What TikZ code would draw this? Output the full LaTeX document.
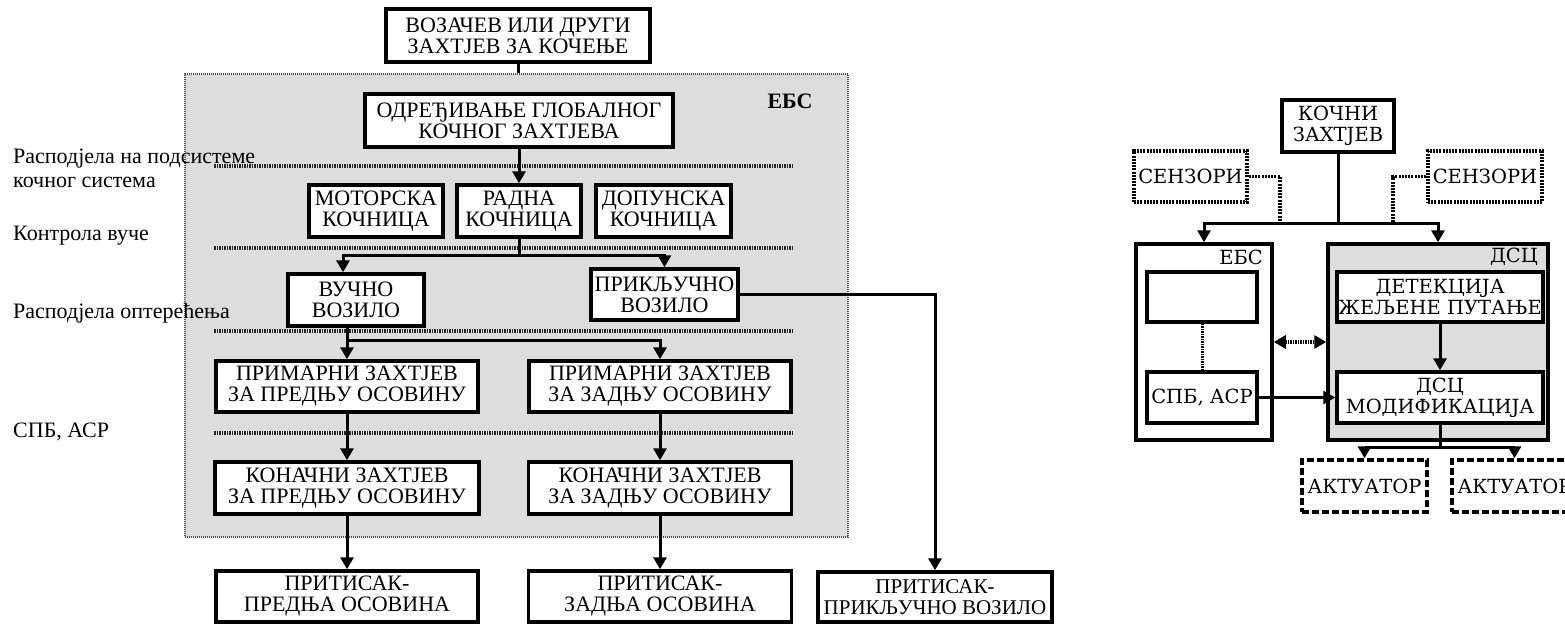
\documentclass[tikz,border=0pt]{standalone}
\usepackage{fontspec}
\setmainfont{Liberation Serif}
\newfontfamily\rfontfam{DejaVu Serif}
\usetikzlibrary{arrows.meta,calc}
\newcommand\leftfnt{\fontsize{22}{21}\selectfont}
\newcommand\leftsmallfnt{\fontsize{21}{21}\selectfont}
\newcommand\labfnt{\fontsize{22}{24}\selectfont}
\newcommand\rightfnt{\rfontfam\fontsize{19.5}{21}\selectfont}
\definecolor{ebsgray}{RGB}{221,221,221}
\begin{document}
\begin{tikzpicture}[x=1pt,y=-1pt,
  lbox/.style={draw, line width=3.5pt, fill=white, inner sep=0pt, align=center, font=\leftfnt},
  rbox/.style={draw, line width=3.5pt, fill=white, inner sep=0pt, align=center, font=\rightfnt},
  sz/.style 2 args={minimum width=#1pt, minimum height=#2pt},
  conn/.style={line width=3pt},
  arr/.style={conn, -{Triangle[length=12pt,width=13pt]}},
  sepline/.style={line width=3.5pt, dash pattern=on 1.5pt off 1pt, black!85},
  dotl/.style={line width=3.5pt, dash pattern=on 2pt off 1.2pt},
  sensbox/.style={rbox, dash pattern=on 2pt off 1.2pt},
  actbox/.style={rbox, dash pattern=on 7pt off 3pt},
  lab/.style={anchor=west, inner sep=0pt, font=\labfnt, align=left},
]
\useasboundingbox (0,0) rectangle (1565,624);
\clip (0,0) rectangle (1565,624);

% ---------- left diagram ----------
\node[draw=black!70, fill=ebsgray, line width=1.5pt, dash pattern=on 1pt off 1pt,
      inner sep=0pt, sz={663}{463}] (ebs) at (516.5,305.5) {};
\node[font=\leftfnt\bfseries] (ebslab) at (790,101) {ЕБС};

\node[lab] (l1) at (13,168) {Расподјела на подсистеме\\кочног система};
\node[lab] (l2) at (13,236) {Контрола вуче};
\node[lab] (l3) at (13,313) {Расподјела оптерећења};
\node[lab] (l4) at (13,432) {СПБ, АСР};

\draw[sepline] (214,166) -- (793,166);
\draw[sepline] (214,248) -- (793,248);
\draw[sepline] (214,331) -- (793,331);
\draw[sepline] (214,433) -- (793,433);

\node[lbox, sz={264}{53}] (top) at (518,35.5) {ВОЗАЧЕВ ИЛИ ДРУГИ\\ЗАХТЈЕВ ЗА КОЧЕЊЕ};
\node[lbox, sz={308}{53}] (odr) at (519,120.5) {ОДРЕЂИВАЊЕ ГЛОБАЛНОГ\\КОЧНОГ ЗАХТЈЕВА};
\node[lbox, sz={134}{52}] (mot) at (376,211) {МОТОРСКА\\КОЧНИЦА};
\node[lbox, sz={124}{52}] (rad) at (519,211) {РАДНА\\КОЧНИЦА};
\node[lbox, sz={135}{52}] (dop) at (663.5,211) {ДОПУНСКА\\КОЧНИЦА};
\node[lbox, sz={136}{52}] (vu) at (356,300) {ВУЧНО\\ВОЗИЛО};
\node[lbox, sz={147}{51}] (pk) at (664.5,294.5) {ПРИКЉУЧНО\\ВОЗИЛО};
\node[lbox, sz={262}{51}] (prf) at (347,386.5) {ПРИМАРНИ ЗАХТЈЕВ\\ЗА ПРЕДЊУ ОСОВИНУ};
\node[lbox, sz={262}{51}] (prr) at (660,386.5) {ПРИМАРНИ ЗАХТЈЕВ\\ЗА ЗАДЊУ ОСОВИНУ};
\node[lbox, sz={264}{52}] (kf) at (347,488) {КОНАЧНИ ЗАХТЈЕВ\\ЗА ПРЕДЊУ ОСОВИНУ};
\node[lbox, sz={263}{52}] (kr) at (660,488) {КОНАЧНИ ЗАХТЈЕВ\\ЗА ЗАДЊУ ОСОВИНУ};
\node[lbox, sz={262}{51}] (ptf) at (347,596.5) {ПРИТИСАК-\\ПРЕДЊА ОСОВИНА};
\node[lbox, sz={263}{51}] (ptr) at (660,596.5) {ПРИТИСАК-\\ЗАДЊА ОСОВИНА};
\node[lbox, font=\leftsmallfnt, sz={234}{50}] (ptk) at (935,597) {ПРИТИСАК-\\ПРИКЉУЧНО ВОЗИЛО};

\draw[conn] (top.south) -- (top.south |- ebs.north);
\draw[arr] (odr.south) -- (rad.north);
\coordinate (b1) at (519,255);
\draw[conn] (rad.south) -- (b1);
\draw[arr] (b1) -| ($(vu.north)+(-13,0)$);
\draw[arr] (b1) -| (pk.north);
\coordinate (b2) at (347,340);
\draw[conn] (vu.south -| b2) -- (b2);
\draw[arr] (b2) -- (prf.north);
\draw[arr] (b2) -| (prr.north);
\draw[arr] (prf.south) -- (kf.north);
\draw[arr] (prr.south) -- (kr.north);
\draw[arr] (kf.south) -- (ptf.north);
\draw[arr] (kr.south) -- (ptr.north);
\draw[arr] (pk.east) -| (ptk.north);

% ---------- right diagram ----------
\node[draw, line width=3.5pt, fill=white, inner sep=0pt, sz={136}{196}] (ebsR) at (1204,342) {};
\node[draw, line width=3.5pt, fill=ebsgray, inner sep=0pt, sz={220}{196}] (dsc) at (1438,342) {};
\node[anchor=east, inner sep=0pt, font=\rightfnt] (ebsRl) at (1263,257) {ЕБС};
\node[anchor=east, inner sep=0pt, font=\rightfnt] (dscl) at (1538,257) {ДСЦ};

\node[rbox, sz={112}{52}] (koc) at (1338,126) {КОЧНИ\\ЗАХТЈЕВ};
\node[sensbox, sz={113}{51}] (sL) at (1190.5,176.5) {СЕНЗОРИ};
\node[sensbox, sz={114}{51}] (sR) at (1485,176.5) {СЕНЗОРИ};
\node[rbox, sz={110}{50}] (blank) at (1202,297) {};
\node[rbox, sz={110}{51}] (spb) at (1202,397.5) {СПБ, АСР};
\node[rbox, sz={206}{50}] (det) at (1440,297) {ДЕТЕКЦИЈА\\ЖЕЉЕНЕ ПУТАЊЕ};
\node[rbox, sz={206}{51}] (mod) at (1440,397.5) {ДСЦ\\МОДИФИКАЦИЈА};
\node[actbox, sz={125}{52}] (act1) at (1364.5,486) {АКТУАТОР};
\node[actbox, sz={125}{52}] (act2) at (1514.5,486) {АКТУАТОР};

\coordinate (rb) at (1338,223);
\coordinate (sLj) at (1280,223);
\coordinate (sRj) at (1393,223);
\draw[dotl] (sL.east) -| (sLj);
\draw[dotl] (sR.west) -| (sRj);
\draw[conn] (koc.south) -- (rb);
\draw[arr] (rb) -| (ebsR.north);
\draw[arr] (rb) -| (dsc.north);
\draw[line width=3pt, dash pattern=on 1.5pt off 1pt] (blank.south) -- (spb.north);
\draw[line width=3.5pt, dash pattern=on 1.5pt off 1pt,
      {Triangle[length=12pt,width=13pt]}-{Triangle[length=12pt,width=13pt]}] (ebsR.east) -- (dsc.west);
\draw[arr] (spb.east) -- (mod.west);
\draw[arr] (det.south) -- (mod.north);
\coordinate (rb2) at (1440,447);
\draw[conn] (mod.south) -- (rb2);
\draw[arr] (rb2) -| (act1.north);
\draw[arr] (rb2) -| (act2.north);
\end{tikzpicture}
\end{document}
